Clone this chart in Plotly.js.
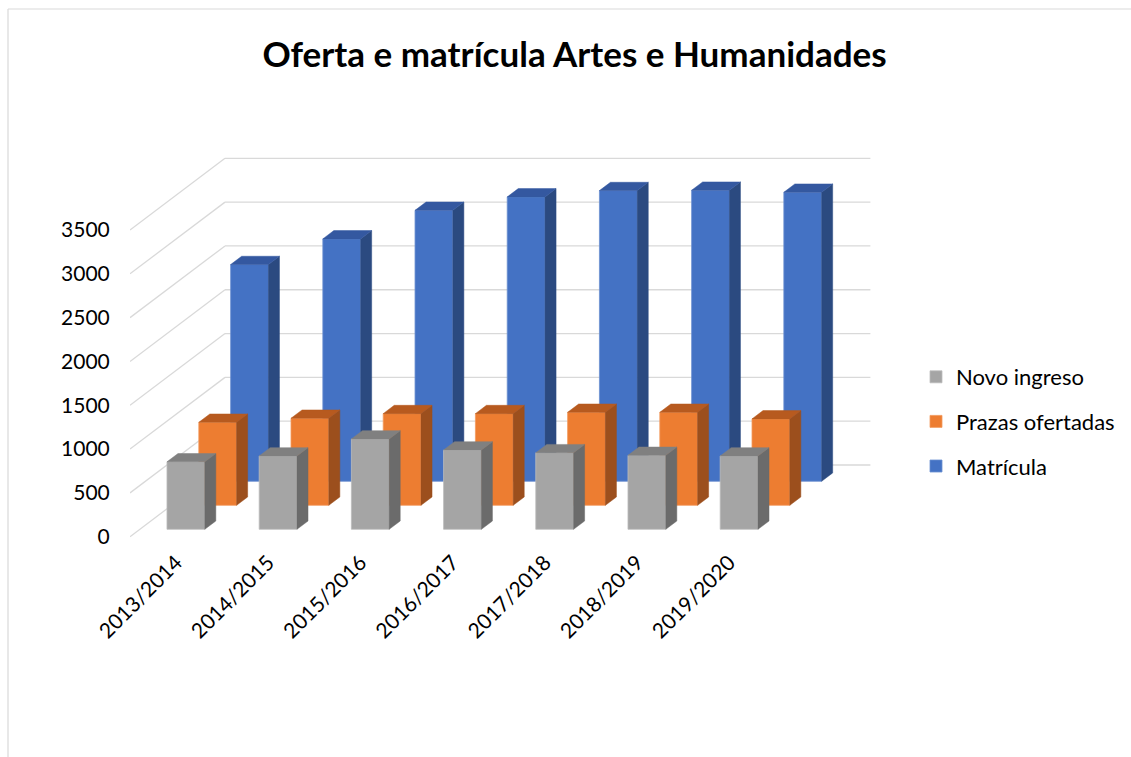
<!DOCTYPE html>
<html>
<head>
<meta charset="utf-8">
<script src="https://cdn.plot.ly/plotly-3.0.1.min.js"></script>
<style>
  html, body { margin: 0; padding: 0; background: #ffffff; }
  #chart { width: 1131px; height: 757px; }
</style>
</head>
<body>
<div id="chart"></div>
<script>
// ---------- data ----------
const categories = ['2013/2014', '2014/2015', '2015/2016', '2016/2017', '2017/2018', '2018/2019', '2019/2020'];
const novoIngreso = [770, 837, 1031, 905, 874, 844, 837];
const prazasOfertadas = [947, 993, 1046, 1046, 1061, 1061, 986];
const matricula = [2473, 2766, 3092, 3245, 3317, 3321, 3298];
const yTickValues = [0, 500, 1000, 1500, 2000, 2500, 3000, 3500];
const seriesNames = ['Novo ingreso', 'Prazas ofertadas', 'Matrícula'];

// ---------- geometry (oblique projection) ----------
const W = 1131, H = 757;
const L = 130, R = 880, T = 140, B = 540;
const pxPerCat = 92.2, pxPerVal = 0.08763, zeroPx = 536.7;
const xRange = [-0.5, -0.5 + (R - L) / pxPerCat];
const yRange = [-(B - zeroPx) / pxPerVal, (zeroPx - T) / pxPerVal];
const depthX = 95 / pxPerCat;      // full floor depth, in category units
const depthY = 71.7 / pxPerVal;    // full floor depth, in value units
const rowFront = [0.103, 0.438, 0.773];
const barDepth = 0.116;
const halfW = 0.205;

const styles = [
  { front: '#A5A5A5', side: '#6B6B6B', top: '#808080', edge: '#BDBDBD' },
  { front: '#ED7D31', side: '#9C4F1D', top: '#B75A1F', edge: '#F29B5E' },
  { front: '#4472C4', side: '#2B4A80', top: '#3458A0', edge: '#6B8FD0' }
];
const seriesValues = [novoIngreso, prazasOfertadas, matricula];

const traces = [];

// gridlines: back wall + side wall
const gx = [], gy = [];
yTickValues.forEach(v => {
  gx.push(-0.5, -0.5 + depthX, null);
  gy.push(v, v + depthY, null);
  gx.push(-0.5 + depthX, categories.length - 0.5 + depthX, null);
  gy.push(v + depthY, v + depthY, null);
});
traces.push({
  type: 'scatter', mode: 'lines', x: gx, y: gy,
  line: { color: '#D9D9D9', width: 1.3 },
  hoverinfo: 'skip', showlegend: false, xaxis: 'x', yaxis: 'y'
});

// rows drawn back (Matrícula) to front (Novo ingreso)
const axisFor = { 2: 2, 1: 3, 0: 4 };
[2, 1, 0].forEach(k => {
  const vals = seriesValues[k];
  const st = styles[k];
  const d = rowFront[k];
  const ax = 'x' + axisFor[k], ay = 'y' + axisFor[k];
  const base = d * depthY;
  const ddx = barDepth * depthX, ddy = barDepth * depthY;

  traces.push({
    type: 'bar', name: seriesNames[k],
    x: vals.map((_, i) => i + d * depthX),
    y: vals, base: vals.map(() => base), width: 0.41,
    marker: { color: st.front, line: { color: st.edge, width: 0.8 } },
    legendrank: k + 1, legendgroup: seriesNames[k],
    hoverinfo: 'skip', xaxis: ax, yaxis: ay
  });

  const sx = [], sy = [], tx = [], ty = [];
  vals.forEach((v, i) => {
    const xl = i - halfW + d * depthX, xr = i + halfW + d * depthX;
    const top = base + v;
    sx.push(xr, xr + ddx, xr + ddx, xr, xr, null);
    sy.push(base, base + ddy, top + ddy, top, base, null);
    tx.push(xl, xr, xr + ddx, xl + ddx, xl, null);
    ty.push(top, top, top + ddy, top + ddy, top, null);
  });
  traces.push({
    type: 'scatter', mode: 'lines', x: sx, y: sy, fill: 'toself',
    fillcolor: st.side, line: { color: st.side, width: 0.5 },
    hoverinfo: 'skip', showlegend: false, xaxis: ax, yaxis: ay
  });
  traces.push({
    type: 'scatter', mode: 'lines', x: tx, y: ty, fill: 'toself',
    fillcolor: st.top, line: { color: st.top, width: 0.5 },
    hoverinfo: 'skip', showlegend: false, xaxis: ax, yaxis: ay
  });
});

const hiddenX = { range: xRange, overlaying: 'x', visible: false, fixedrange: true };
const hiddenY = { range: yRange, overlaying: 'y', visible: false, fixedrange: true };

const toPX = px => (px - L) / (R - L);
const toPY = py => (B - py) / (B - T);

const layout = {
  width: W, height: H,
  margin: { l: L, r: W - R, t: T, b: H - B, pad: 0 },
  paper_bgcolor: '#ffffff', plot_bgcolor: 'rgba(0,0,0,0)',
  font: { family: 'Lato, "Open Sans", sans-serif', color: '#000000' },
  title: {
    text: '<b>Oferta e matrícula Artes e Humanidades</b>',
    font: { family: 'Lato, "Open Sans", sans-serif', size: 35, color: '#000000' },
    x: 574.5 / W, xref: 'container', xanchor: 'center',
    y: 1 - 55 / H, yref: 'container', yanchor: 'middle'
  },
  xaxis: {
    range: xRange, showgrid: false, zeroline: false, showline: false,
    tickmode: 'array', tickvals: categories.map((_, i) => i), ticktext: categories,
    tickangle: -45, ticks: 'outside', ticklen: 1, tickcolor: 'rgba(0,0,0,0)',
    tickfont: { size: 21, color: '#000000' }, fixedrange: true
  },
  yaxis: {
    range: yRange, showgrid: false, zeroline: false, showline: false,
    tickmode: 'array', tickvals: yTickValues,
    ticks: 'outside', ticklen: 15, tickcolor: 'rgba(0,0,0,0)',
    tickfont: { size: 21, color: '#000000' }, fixedrange: true
  },
  xaxis2: hiddenX, yaxis2: hiddenY,
  xaxis3: hiddenX, yaxis3: hiddenY,
  xaxis4: hiddenX, yaxis4: hiddenY,
  showlegend: true,
  legend: {
    xref: 'container', yref: 'container',
    x: 916 / W, xanchor: 'left', y: 1 - 356 / H, yanchor: 'top',
    font: { size: 22, color: '#000000' },
    tracegroupgap: 13, bgcolor: 'rgba(0,0,0,0)'
  },
  shapes: [
    { type: 'line', xref: 'paper', yref: 'paper', x0: toPX(8), x1: toPX(8), y0: toPY(9), y1: toPY(757),
      line: { color: '#D9D9D9', width: 1.2 } },
    { type: 'line', xref: 'paper', yref: 'paper', x0: toPX(8), x1: toPX(1131), y0: toPY(9), y1: toPY(9),
      line: { color: '#D9D9D9', width: 1.2 } }
  ]
};

Plotly.newPlot('chart', traces, layout, { staticPlot: true, displayModeBar: false });
</script>
</body>
</html>
